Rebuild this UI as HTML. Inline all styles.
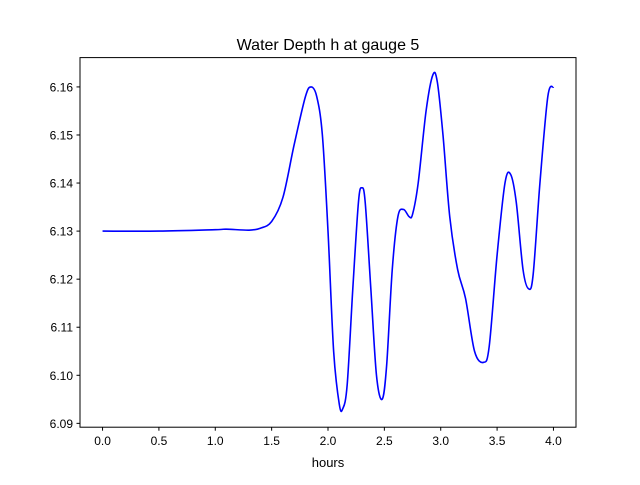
<!DOCTYPE html>
<html><head><meta charset="utf-8"><style>
body{margin:0;background:#fff}
svg{font-family:"Liberation Sans","DejaVu Sans",sans-serif}
</style></head><body>
<svg id="chart" width="640" height="480">
<rect width="640" height="480" fill="#fff"/>
<text x="328" y="50" font-size="16" text-anchor="middle">Water Depth h at gauge 5</text>
<g id="ticks"></g>
<path id="line" fill="none" stroke="#0000ff" stroke-width="1.6"/>
<rect x="80" y="57.6" width="496" height="369.6" fill="none" stroke="#000" stroke-width="1"/>
<text x="328" y="467" font-size="13" text-anchor="middle">hours</text>
</svg>
<script>
const hours=[0,0.5,1.0,1.1,1.3,1.4,1.5,1.6,1.7,1.8,1.85,1.9,1.95,2.0,2.05,2.1,2.13,2.17,2.22,2.27,2.3,2.33,2.38,2.43,2.48,2.52,2.57,2.62,2.67,2.72,2.75,2.8,2.87,2.93,2.97,3.02,3.08,3.15,3.22,3.3,3.38,3.43,3.5,3.57,3.62,3.67,3.73,3.78,3.82,3.88,3.95,4.0];
const depth=[6.130,6.130,6.1303,6.1304,6.1302,6.1306,6.132,6.137,6.148,6.158,6.160,6.158,6.150,6.130,6.105,6.094,6.093,6.098,6.118,6.136,6.139,6.136,6.118,6.100,6.095,6.102,6.122,6.133,6.1345,6.133,6.1335,6.140,6.155,6.1625,6.161,6.150,6.133,6.122,6.116,6.105,6.1027,6.106,6.125,6.140,6.1418,6.136,6.122,6.118,6.121,6.140,6.158,6.160];
const xTicks=[0,0.5,1.0,1.5,2.0,2.5,3.0,3.5,4.0];
const yTicks=[6.09,6.10,6.11,6.12,6.13,6.14,6.15,6.16];
const L=80,R=576,T=57.6,B=427.2;
const xmin=-0.2,xmax=4.2;
const ymin=6.0892,ymax=6.1661;
const sx=v=>L+(v-xmin)/(xmax-xmin)*(R-L);
const sy=v=>B-(v-ymin)/(ymax-ymin)*(B-T);
const NS="http://www.w3.org/2000/svg";
const g=document.getElementById('ticks');
function mk(t,a){const e=document.createElementNS(NS,t);for(const k in a)e.setAttribute(k,a[k]);return e;}
xTicks.forEach(v=>{
  const x=sx(v);
  const l=mk('line',{x1:x,x2:x,y1:B,y2:B+3.5,stroke:'#000'});
  
  
  g.appendChild(l);
  const t=mk('text',{x:x,y:B+18,'font-size':12,'text-anchor':'middle'});
  
  
  t.textContent=v.toFixed(1);g.appendChild(t);
});
yTicks.forEach(v=>{
  const y=sy(v);
  const l=mk('line',{x1:L-3.5,x2:L,y1:y,y2:y,stroke:'#000'});
  
  
  g.appendChild(l);
  const t=mk('text',{x:L-7,y:y+4.5,'font-size':12,'text-anchor':'end'});
  
  
  t.textContent=v.toFixed(2);g.appendChild(t);
});
const P=hours.map((h,i)=>[sx(h),sy(depth[i])]);
let d='M'+P[0][0]+','+P[0][1];
for(let i=0;i<P.length-1;i++){
  const p0=P[Math.max(0,i-1)],p1=P[i],p2=P[i+1],p3=P[Math.min(P.length-1,i+2)];
  const c1=[p1[0]+(p2[0]-p0[0])/6,p1[1]+(p2[1]-p0[1])/6];
  const c2=[p2[0]-(p3[0]-p1[0])/6,p2[1]-(p3[1]-p1[1])/6];
  d+=` C${c1[0]},${c1[1]} ${c2[0]},${c2[1]} ${p2[0]},${p2[1]}`;
}
document.getElementById('line').setAttribute('d',d);
</script>
</body></html>
